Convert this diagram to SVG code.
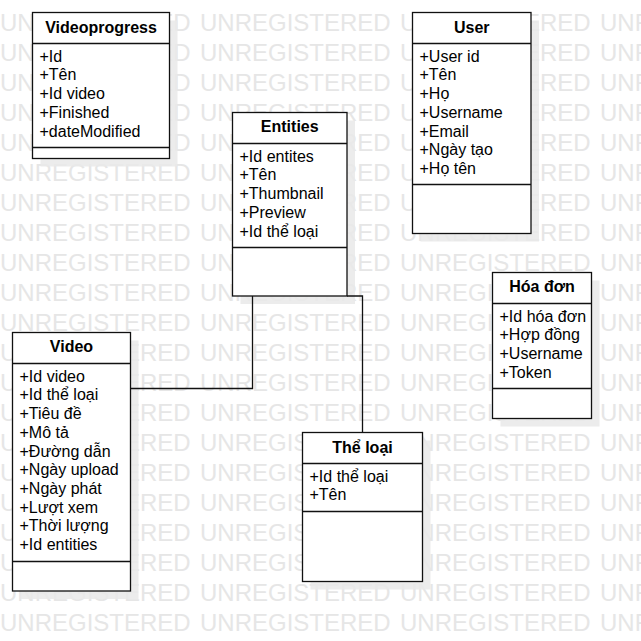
<svg xmlns="http://www.w3.org/2000/svg" width="641" height="641" viewBox="0 0 641 641">
<style>
.wm{font-family:"Liberation Sans",Arial,sans-serif;font-size:24px;fill:#e6e6e6}
.sh{fill:#e9e9e9;opacity:0.85}
.box{fill:#fff;stroke:#111;stroke-width:1.3}
.ln{stroke:#111;stroke-width:1.3;fill:none}
.t{font-family:"Liberation Sans",Arial,sans-serif;font-size:16px;font-weight:bold;fill:#000;text-anchor:middle}
.a{font-family:"Liberation Sans",Arial,sans-serif;font-size:16px;fill:#000}
</style>
<rect width="641" height="641" fill="#fff"/>
<g id="watermark">
<text class="wm" y="30.5"><tspan x="0">UNREGISTERED</tspan><tspan x="200">UNREGISTERED</tspan><tspan x="400">UNREGISTERED</tspan><tspan x="600">UNREGISTERED</tspan></text>
<text class="wm" y="60.5"><tspan x="0">UNREGISTERED</tspan><tspan x="200">UNREGISTERED</tspan><tspan x="400">UNREGISTERED</tspan><tspan x="600">UNREGISTERED</tspan></text>
<text class="wm" y="90.5"><tspan x="0">UNREGISTERED</tspan><tspan x="200">UNREGISTERED</tspan><tspan x="400">UNREGISTERED</tspan><tspan x="600">UNREGISTERED</tspan></text>
<text class="wm" y="120.5"><tspan x="0">UNREGISTERED</tspan><tspan x="200">UNREGISTERED</tspan><tspan x="400">UNREGISTERED</tspan><tspan x="600">UNREGISTERED</tspan></text>
<text class="wm" y="150.5"><tspan x="0">UNREGISTERED</tspan><tspan x="200">UNREGISTERED</tspan><tspan x="400">UNREGISTERED</tspan><tspan x="600">UNREGISTERED</tspan></text>
<text class="wm" y="180.5"><tspan x="0">UNREGISTERED</tspan><tspan x="200">UNREGISTERED</tspan><tspan x="400">UNREGISTERED</tspan><tspan x="600">UNREGISTERED</tspan></text>
<text class="wm" y="210.5"><tspan x="0">UNREGISTERED</tspan><tspan x="200">UNREGISTERED</tspan><tspan x="400">UNREGISTERED</tspan><tspan x="600">UNREGISTERED</tspan></text>
<text class="wm" y="240.5"><tspan x="0">UNREGISTERED</tspan><tspan x="200">UNREGISTERED</tspan><tspan x="400">UNREGISTERED</tspan><tspan x="600">UNREGISTERED</tspan></text>
<text class="wm" y="270.5"><tspan x="0">UNREGISTERED</tspan><tspan x="200">UNREGISTERED</tspan><tspan x="400">UNREGISTERED</tspan><tspan x="600">UNREGISTERED</tspan></text>
<text class="wm" y="300.5"><tspan x="0">UNREGISTERED</tspan><tspan x="200">UNREGISTERED</tspan><tspan x="400">UNREGISTERED</tspan><tspan x="600">UNREGISTERED</tspan></text>
<text class="wm" y="330.5"><tspan x="0">UNREGISTERED</tspan><tspan x="200">UNREGISTERED</tspan><tspan x="400">UNREGISTERED</tspan><tspan x="600">UNREGISTERED</tspan></text>
<text class="wm" y="360.5"><tspan x="0">UNREGISTERED</tspan><tspan x="200">UNREGISTERED</tspan><tspan x="400">UNREGISTERED</tspan><tspan x="600">UNREGISTERED</tspan></text>
<text class="wm" y="390.5"><tspan x="0">UNREGISTERED</tspan><tspan x="200">UNREGISTERED</tspan><tspan x="400">UNREGISTERED</tspan><tspan x="600">UNREGISTERED</tspan></text>
<text class="wm" y="420.5"><tspan x="0">UNREGISTERED</tspan><tspan x="200">UNREGISTERED</tspan><tspan x="400">UNREGISTERED</tspan><tspan x="600">UNREGISTERED</tspan></text>
<text class="wm" y="450.5"><tspan x="0">UNREGISTERED</tspan><tspan x="200">UNREGISTERED</tspan><tspan x="400">UNREGISTERED</tspan><tspan x="600">UNREGISTERED</tspan></text>
<text class="wm" y="480.5"><tspan x="0">UNREGISTERED</tspan><tspan x="200">UNREGISTERED</tspan><tspan x="400">UNREGISTERED</tspan><tspan x="600">UNREGISTERED</tspan></text>
<text class="wm" y="510.5"><tspan x="0">UNREGISTERED</tspan><tspan x="200">UNREGISTERED</tspan><tspan x="400">UNREGISTERED</tspan><tspan x="600">UNREGISTERED</tspan></text>
<text class="wm" y="540.5"><tspan x="0">UNREGISTERED</tspan><tspan x="200">UNREGISTERED</tspan><tspan x="400">UNREGISTERED</tspan><tspan x="600">UNREGISTERED</tspan></text>
<text class="wm" y="570.5"><tspan x="0">UNREGISTERED</tspan><tspan x="200">UNREGISTERED</tspan><tspan x="400">UNREGISTERED</tspan><tspan x="600">UNREGISTERED</tspan></text>
<text class="wm" y="600.5"><tspan x="0">UNREGISTERED</tspan><tspan x="200">UNREGISTERED</tspan><tspan x="400">UNREGISTERED</tspan><tspan x="600">UNREGISTERED</tspan></text>
<text class="wm" y="630.5"><tspan x="0">UNREGISTERED</tspan><tspan x="200">UNREGISTERED</tspan><tspan x="400">UNREGISTERED</tspan><tspan x="600">UNREGISTERED</tspan></text>
</g>
<g id="shadows">
<rect class="sh" x="40.5" y="20.5" width="137" height="146"/>
<rect class="sh" x="240.5" y="120.5" width="114.5" height="183.5"/>
<rect class="sh" x="420.5" y="20.5" width="118.5" height="221"/>
<rect class="sh" x="500.5" y="280.5" width="99" height="146"/>
<rect class="sh" x="20.5" y="340.5" width="118" height="258.5"/>
<rect class="sh" x="310.5" y="440.5" width="120" height="149"/>
</g>
<g id="connectors">
<path class="ln" d="M252.5,296 V388.5 H130.5"/>
<path class="ln" d="M347,296 H362.5 V432.5"/>
</g>
<g id="videoprogress">
<rect class="box" x="32.5" y="12.5" width="137" height="146"/>
<line class="ln" x1="32.5" y1="43.5" x2="169.5" y2="43.5"/>
<line class="ln" x1="32.5" y1="147.5" x2="169.5" y2="147.5"/>
<text class="t" x="101" y="33.3">Videoprogress</text>
<text class="a" x="39.5" y="61.7">+Id</text>
<text class="a" x="39.5" y="80.4">+Tên</text>
<text class="a" x="39.5" y="99.1">+Id video</text>
<text class="a" x="39.5" y="117.8">+Finished</text>
<text class="a" x="39.5" y="136.5">+dateModified</text>
</g>
<g id="entities">
<rect class="box" x="232.5" y="112.5" width="114.5" height="183.5"/>
<line class="ln" x1="232.5" y1="143.5" x2="347" y2="143.5"/>
<line class="ln" x1="232.5" y1="247.5" x2="347" y2="247.5"/>
<text class="t" x="289.75" y="132.3">Entities</text>
<text class="a" x="239.5" y="161.7">+Id entites</text>
<text class="a" x="239.5" y="180.4">+Tên</text>
<text class="a" x="239.5" y="199.1">+Thumbnail</text>
<text class="a" x="239.5" y="217.8">+Preview</text>
<text class="a" x="239.5" y="236.5">+Id thể loại</text>
</g>
<g id="user">
<rect class="box" x="412.5" y="12.5" width="118.5" height="221"/>
<line class="ln" x1="412.5" y1="43.5" x2="531" y2="43.5"/>
<line class="ln" x1="412.5" y1="184.5" x2="531" y2="184.5"/>
<text class="t" x="471.75" y="33.3">User</text>
<text class="a" x="419.5" y="61.7">+User id</text>
<text class="a" x="419.5" y="80.4">+Tên</text>
<text class="a" x="419.5" y="99.1">+Họ</text>
<text class="a" x="419.5" y="117.8">+Username</text>
<text class="a" x="419.5" y="136.5">+Email</text>
<text class="a" x="419.5" y="155.2">+Ngày tạo</text>
<text class="a" x="419.5" y="173.9">+Họ tên</text>
</g>
<g id="hoadon">
<rect class="box" x="492.5" y="272.5" width="99" height="146"/>
<line class="ln" x1="492.5" y1="303.5" x2="591.5" y2="303.5"/>
<line class="ln" x1="492.5" y1="388.5" x2="591.5" y2="388.5"/>
<text class="t" x="542" y="292.3">Hóa đơn</text>
<text class="a" x="499.5" y="321.7">+Id hóa đơn</text>
<text class="a" x="499.5" y="340.4">+Hợp đồng</text>
<text class="a" x="499.5" y="359.1">+Username</text>
<text class="a" x="499.5" y="377.8">+Token</text>
</g>
<g id="video">
<rect class="box" x="12.5" y="332.5" width="118" height="258.5"/>
<line class="ln" x1="12.5" y1="363.5" x2="130.5" y2="363.5"/>
<line class="ln" x1="12.5" y1="561.5" x2="130.5" y2="561.5"/>
<text class="t" x="71.5" y="352.3">Video</text>
<text class="a" x="19.5" y="381.7">+Id video</text>
<text class="a" x="19.5" y="400.4">+Id thể loại</text>
<text class="a" x="19.5" y="419.1">+Tiêu đề</text>
<text class="a" x="19.5" y="437.8">+Mô tả</text>
<text class="a" x="19.5" y="456.5">+Đường dẫn</text>
<text class="a" x="19.5" y="475.2">+Ngày upload</text>
<text class="a" x="19.5" y="493.9">+Ngày phát</text>
<text class="a" x="19.5" y="512.6">+Lượt xem</text>
<text class="a" x="19.5" y="531.3">+Thời lượng</text>
<text class="a" x="19.5" y="550">+Id entities</text>
</g>
<g id="theloai">
<rect class="box" x="302.5" y="432.5" width="120" height="149"/>
<line class="ln" x1="302.5" y1="463.5" x2="422.5" y2="463.5"/>
<line class="ln" x1="302.5" y1="511.5" x2="422.5" y2="511.5"/>
<text class="t" x="362.5" y="452.7">Thể loại</text>
<text class="a" x="309.5" y="481.7">+Id thể loại</text>
<text class="a" x="309.5" y="500.4">+Tên</text>
</g>
</svg>
